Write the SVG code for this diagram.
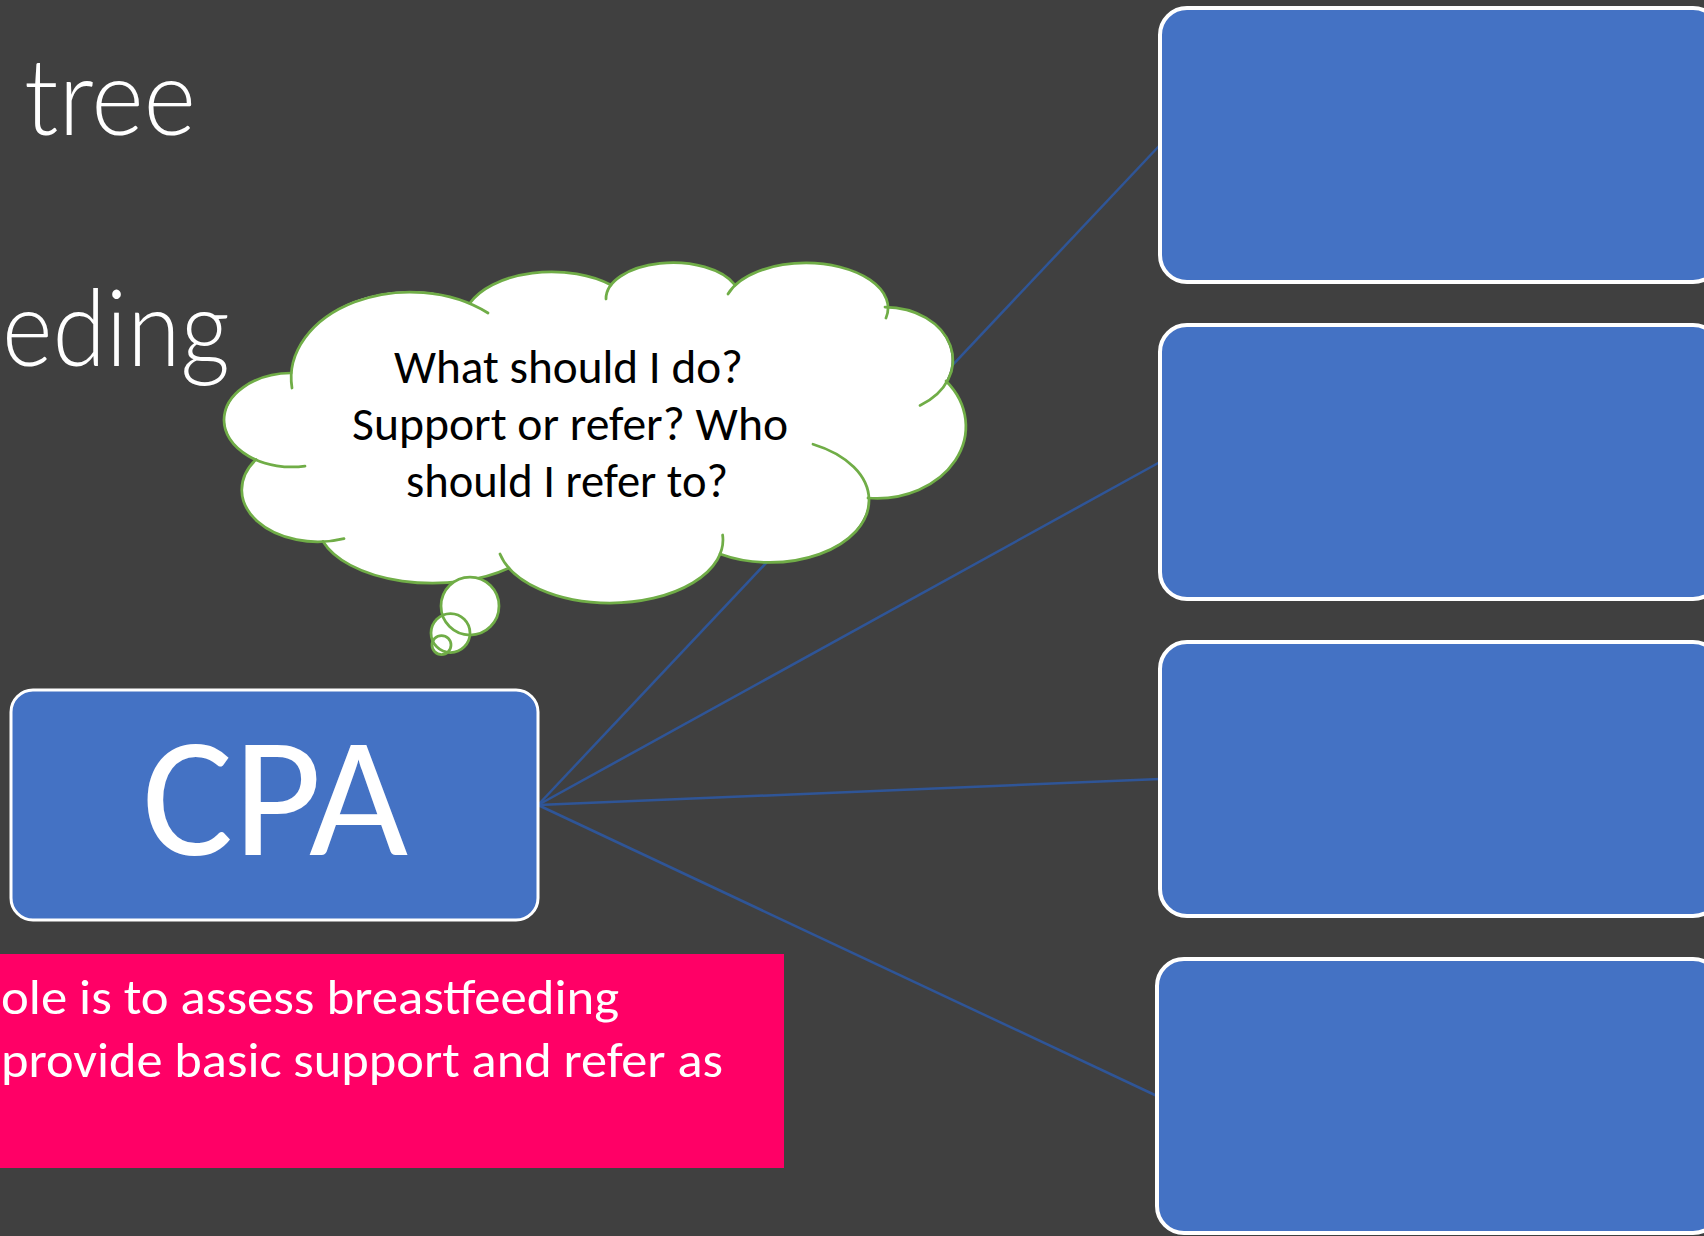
<svg xmlns="http://www.w3.org/2000/svg" width="1704" height="1236" viewBox="0 0 1704 1236">
  <defs>
    <style>
      .bg { fill: #404040; }
      .node { fill: #4472C4; stroke: #FFFFFF; stroke-width: 4; }
      .cpa { fill: #4472C4; stroke: #FFFFFF; stroke-width: 3; }
      .conn { stroke: #2F5597; stroke-width: 2.5; fill: none; }
      .title { fill: #FFFFFF; font-family: "Lato Light", "Open Sans Light", "Noto Sans Light", Lato, "Open Sans", sans-serif; font-weight: 300; font-size: 106px; }
      .cloudfill { fill: #FFFFFF; stroke: none; }
      .cloudline { fill: none; stroke: #70AD47; stroke-width: 2.75; stroke-linecap: round; }
      .bubble { fill: #FFFFFF; }
      .bubbleline { fill: none; stroke: #70AD47; stroke-width: 2.75; }
      .cloudtext { fill: #000000; font-family: Carlito, Lato, "Open Sans", sans-serif; font-size: 47px; }
      .pinktext { fill: #FFFFFF; font-family: Carlito, Lato, "Open Sans", sans-serif; font-size: 50px; }
      .cpatext { fill: #FFFFFF; font-family: Carlito, Lato, "Open Sans", sans-serif; font-size: 170px; }
    </style>
  </defs>

  <rect class="bg" x="0" y="0" width="1704" height="1236"/>

  <g id="title">
    <text class="title" x="24" y="135" textLength="172" lengthAdjust="spacingAndGlyphs">tree</text>
    <text class="title" x="2" y="366" textLength="228" lengthAdjust="spacingAndGlyphs">eding</text>
  </g>

  <g id="connectors">
    <line class="conn" x1="538" y1="805" x2="1160" y2="145"/>
    <line class="conn" x1="538" y1="805" x2="1160" y2="462"/>
    <line class="conn" x1="538" y1="805" x2="1160" y2="779"/>
    <line class="conn" x1="538" y1="805" x2="1157" y2="1096"/>
  </g>

  <g id="box1"><rect class="node" x="1160" y="8" width="560" height="274" rx="27" ry="27"/></g>
  <g id="box2"><rect class="node" x="1160" y="325" width="560" height="274" rx="27" ry="27"/></g>
  <g id="box3"><rect class="node" x="1160" y="642" width="560" height="274" rx="27" ry="27"/></g>
  <g id="box4"><rect class="node" x="1157" y="959" width="563" height="274" rx="27" ry="27"/></g>

  <g id="cpa">
    <rect class="cpa" x="11" y="690" width="527" height="230" rx="22" ry="22"/>
    <text class="cpatext" x="275" y="855" text-anchor="middle" textLength="266" lengthAdjust="spacingAndGlyphs">CPA</text>
  </g>

  <g id="role">
    <rect x="0" y="954" width="784" height="214" fill="#FF0066"/>
    <text class="pinktext" x="1" y="1014" textLength="618" lengthAdjust="spacingAndGlyphs">ole is to assess breastfeeding</text>
    <text class="pinktext" x="1" y="1077" textLength="722" lengthAdjust="spacingAndGlyphs">provide basic support and refer as</text>
  </g>

  <g id="thought">
    <path class="cloudfill" d="M291,373 A119,86 0 0 1 470,303 A88,50 0 0 1 611,285 A67,36 0 0 1 735,285 A82,45 0 0 1 888,307 A68,53 0 0 1 946,381 A89,72 0 0 1 868,498 A99,62 0 0 1 720,554 A113,63 0 0 1 509,568 A115,60 0 0 1 323,541.5 A76,52 0 0 1 256,459.5 A68,47 0 0 1 291,373 Z"/>
    <path class="cloudline" d="M292,388 A119,86 0 0 1 488,313"/>
    <path class="cloudline" d="M470,303 A88,50 0 0 1 611,285"/>
    <path class="cloudline" d="M606,299 A67,36 0 0 1 735,285"/>
    <path class="cloudline" d="M728,294 A82,45 0 0 1 806,263 A82,45 0 0 1 886,318"/>
    <path class="cloudline" d="M885,307 A68,53 0 0 1 920,405.4"/>
    <path class="cloudline" d="M946,381 A89,72 0 0 1 868,498"/>
    <path class="cloudline" d="M813,444.2 A99,62 0 0 1 869,500 A99,62 0 0 1 720,554"/>
    <path class="cloudline" d="M722.6,535 A113,63 0 0 1 610,603 A113,63 0 0 1 500,554"/>
    <path class="cloudline" d="M509,568 A115,60 0 0 1 323,541.5"/>
    <path class="cloudline" d="M344,538.6 A76,52 0 0 1 256,459.5"/>
    <path class="cloudline" d="M305,466.1 A68,47 0 0 1 224,420 A68,47 0 0 1 291,373"/>
    <circle class="bubble" cx="470" cy="606" r="29"/>
    <circle class="bubble" cx="450.5" cy="633" r="19.5"/>
    <circle class="bubble" cx="441.5" cy="645" r="9.5"/>
    <circle class="bubbleline" cx="470" cy="606" r="29"/>
    <circle class="bubbleline" cx="450.5" cy="633" r="19.5"/>
    <circle class="bubbleline" cx="441.5" cy="645" r="9.5"/>
    <text class="cloudtext" x="568.5" y="383" text-anchor="middle" textLength="349" lengthAdjust="spacingAndGlyphs">What should I do?</text>
    <text class="cloudtext" x="570" y="440" text-anchor="middle" textLength="436" lengthAdjust="spacingAndGlyphs">Support or refer? Who</text>
    <text class="cloudtext" x="567" y="497" text-anchor="middle" textLength="322" lengthAdjust="spacingAndGlyphs">should I refer to?</text>
  </g>
</svg>
